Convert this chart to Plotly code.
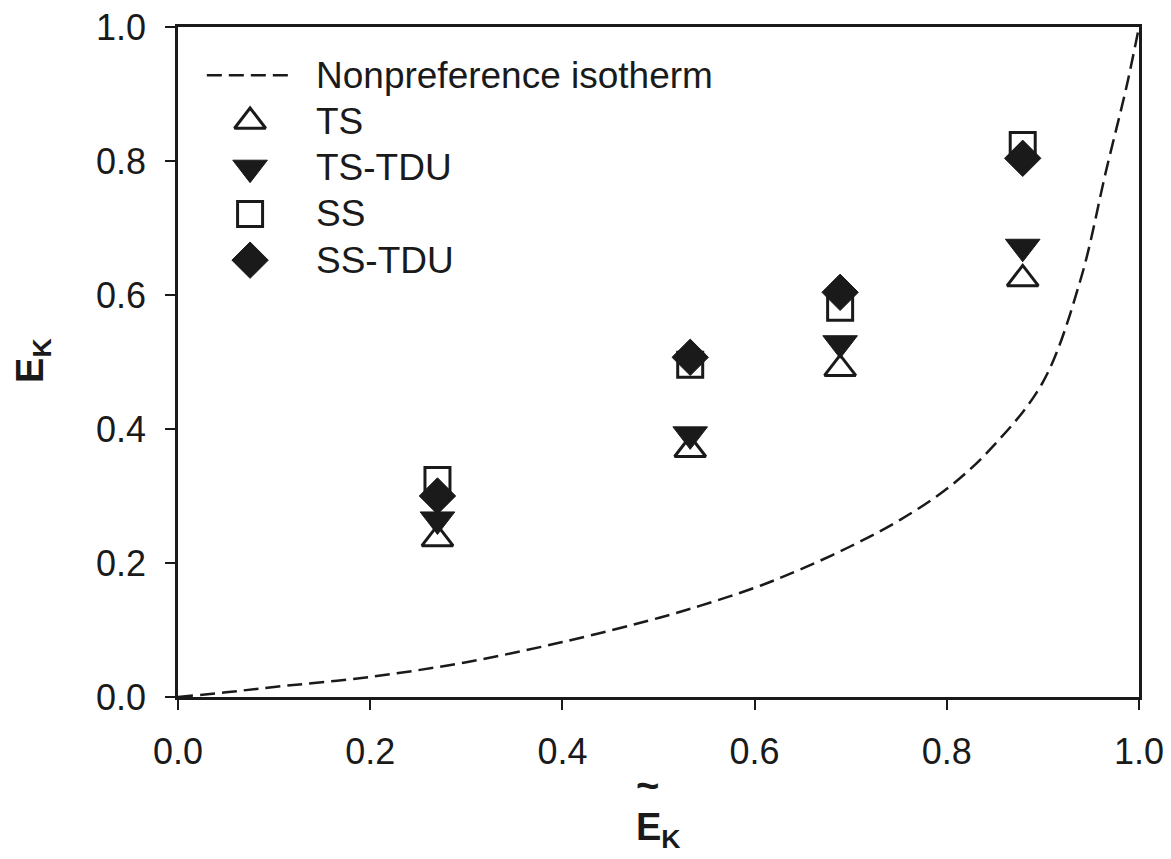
import plotly.graph_objects as go

# ---------------- data ----------------
ek_tilde = [0.270, 0.533, 0.689, 0.879]
ts       = [0.236, 0.369, 0.490, 0.624]
ts_tdu   = [0.265, 0.392, 0.528, 0.672]
ss       = [0.324, 0.496, 0.581, 0.824]
ss_tdu   = [0.300, 0.507, 0.604, 0.804]

iso_x = [0.0, 0.05, 0.10, 0.20, 0.30, 0.40, 0.50, 0.543, 0.60, 0.647, 0.70, 0.751,
         0.803, 0.848, 0.90, 0.939, 0.966, 0.987, 1.0]
iso_y = [0.0, 0.007, 0.015, 0.030, 0.052, 0.082, 0.118, 0.136, 0.163, 0.190, 0.225, 0.264,
         0.314, 0.374, 0.470, 0.622, 0.787, 0.911, 1.0]

tick_vals = [0.0, 0.2, 0.4, 0.6, 0.8, 1.0]
tick_text = ["0.0", "0.2", "0.4", "0.6", "0.8", "1.0"]

legend_names = ["Nonpreference isotherm", "TS", "TS-TDU", "SS", "SS-TDU"]

# ---------------- style ----------------
INK = "#1a1a1a"
FONT = "Liberation Sans, Arial, sans-serif"

series = [
    ("TS", ts, dict(symbol="triangle-up", size=27, color="white", line=dict(color=INK, width=3))),
    ("TS-TDU", ts_tdu, dict(symbol="triangle-down", size=30, color=INK, line=dict(color=INK, width=1))),
    ("SS", ss, dict(symbol="square", size=25, color="white", line=dict(color=INK, width=3))),
    ("SS-TDU", ss_tdu, dict(symbol="diamond", size=28, color=INK, line=dict(color=INK, width=1))),
]

fig = go.Figure()

fig.add_trace(go.Scatter(x=iso_x, y=iso_y, mode="lines", line_shape="spline",
                         line=dict(color=INK, width=2.5, dash="15px,7px"),
                         showlegend=False, hoverinfo="skip"))

for name, vals, mk in series:
    fig.add_trace(go.Scatter(x=ek_tilde, y=vals, mode="markers", name=name,
                             marker=mk, showlegend=False))

# ---- custom legend drawn on a hidden overlay axis (fractions of plot area) ----
LEG_MARK_X = 0.075
LEG_LINE_X = [0.030, 0.120]
LEG_TEXT_X = 0.141
LEG_Y0 = 0.928
LEG_DY = 0.069
rows = [LEG_Y0 - i * LEG_DY for i in range(len(legend_names))]

fig.add_trace(go.Scatter(x=LEG_LINE_X, y=[rows[0], rows[0]], mode="lines",
                         line=dict(color=INK, width=2.5, dash="15px,7px"),
                         xaxis="x2", yaxis="y2", showlegend=False, hoverinfo="skip"))
for i, (name, vals, mk) in enumerate(series):
    fig.add_trace(go.Scatter(x=[LEG_MARK_X], y=[rows[i + 1]], mode="markers",
                             marker=mk, xaxis="x2", yaxis="y2",
                             showlegend=False, hoverinfo="skip"))
for i, name in enumerate(legend_names):
    fig.add_annotation(x=LEG_TEXT_X, y=rows[i], xref="x2", yref="y2", text=name,
                       showarrow=False, xanchor="left", yanchor="middle",
                       font=dict(family=FONT, size=37, color=INK))

axis_common = dict(range=[0, 1], tickvals=tick_vals, ticktext=tick_text,
                   showgrid=False, zeroline=False, showline=True, linecolor=INK,
                   linewidth=2.5, mirror=True, ticks="outside", ticklen=10,
                   tickwidth=2, tickcolor=INK, ticklabeloverflow="allow",
                   automargin=False,
                   tickfont=dict(family=FONT, size=36, color=INK))

fig.update_layout(
    width=1171, height=859,
    margin=dict(l=178, r=32, t=27, b=162, autoexpand=False),
    paper_bgcolor="white", plot_bgcolor="white",
    xaxis=dict(**axis_common, ticklabelstandoff=11),
    yaxis=dict(**axis_common, ticklabelstandoff=12),
    xaxis2=dict(range=[0, 1], overlaying="x", visible=False, fixedrange=True),
    yaxis2=dict(range=[0, 1], overlaying="y", visible=False, fixedrange=True),
    showlegend=False,
)

# x-axis title: E with a tilde set well above it, subscript K
fig.add_annotation(x=0.5, y=-0.198, xref="paper", yref="paper",
                   text="<b>E<sub>K</sub></b>", showarrow=False,
                   xanchor="center", yanchor="middle",
                   font=dict(family=FONT, size=38, color=INK))
fig.add_annotation(x=0.489, y=-0.131, xref="paper", yref="paper",
                   text="<b>~</b>", showarrow=False,
                   xanchor="center", yanchor="middle",
                   font=dict(family=FONT, size=40, color=INK))
fig.add_annotation(x=-0.151, y=0.503, xref="paper", yref="paper",
                   text="<b>E<sub>K</sub></b>", showarrow=False, textangle=-90,
                   xanchor="center", yanchor="middle",
                   font=dict(family=FONT, size=38, color=INK))

# remove the default 8px page margin so the figure sits at the window's top-left corner
fig.write_html("out.html", config={"displayModeBar": False},
               post_script="document.body.style.margin='0';")
